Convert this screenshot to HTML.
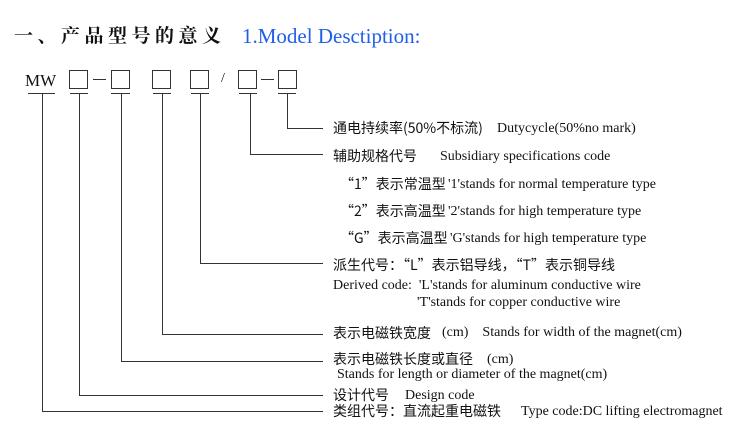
<!DOCTYPE html>
<html><head><meta charset="utf-8"><style>
body{margin:0;background:#fff;width:750px;height:437px;overflow:hidden;position:relative}
svg{position:absolute;left:0;top:0}
.t{position:absolute;white-space:nowrap;color:#111;font-family:"Liberation Serif","Noto Sans CJK SC",serif;font-size:14px;line-height:1}
.c{font-family:"Noto Sans CJK SC","WenQuanYi Zen Hei",sans-serif;font-size:14px}
</style></head><body>
<div class="t" style="left:14px;top:25px;font-size:19px;font-family:'Noto Serif CJK SC','Noto Sans CJK SC',serif;font-weight:bold;letter-spacing:4.5px">一、产品型号的意义</div>
<div class="t" style="left:242px;top:26px;font-size:21px;color:#2060e8">1.Model Desctiption:</div>
<div class="t" style="left:25px;top:72px;font-size:17px">MW</div>
<div class="t" style="left:221px;top:72px;font-size:14px">/</div>
<svg width="750" height="437">
<g fill="none" stroke="#333" stroke-width="1">
<rect x="69.5" y="70.5" width="18" height="18"/>
<rect x="111.5" y="70.5" width="18" height="18"/>
<rect x="152.5" y="70.5" width="18" height="18"/>
<rect x="190.5" y="70.5" width="18" height="18"/>
<rect x="238.5" y="70.5" width="18" height="18"/>
<rect x="278.5" y="70.5" width="18" height="18"/>
<path d="M93 79.5h13M261 79.5h13"/>
<path d="M28 93.5h27M70 93.5h18M111 93.5h19M153 93.5h18M191 93.5h18M239 93.5h18M278 93.5h18"/>
<path d="M42.5 93v318.5H323M79.5 93v302.5H323M121.5 93v268.5H323M162.5 93v241.5H323M200.5 93v170.5H323M250.5 93v61.5H323M287.5 93v35.5H323"/>
</g></svg>
<div class="t c" style="left:333px;top:121px">通电持续率(50%不标流)</div>
<div class="t" style="left:497px;top:122px">Dutycycle(50%no mark)</div>
<div class="t c" style="left:333px;top:149px">辅助规格代号</div>
<div class="t" style="left:440px;top:150px">Subsidiary specifications code</div>
<div class="t c" style="left:340px;top:177px">“1”表示常温型</div>
<div class="t" style="left:448px;top:178px">'1'stands for normal temperature type</div>
<div class="t c" style="left:340px;top:204px">“2”表示高温型</div>
<div class="t" style="left:448px;top:205px">'2'stands for high temperature type</div>
<div class="t c" style="left:340px;top:231px">“G”表示高温型</div>
<div class="t" style="left:450px;top:232px">'G'stands for high temperature type</div>
<div class="t c" style="left:333px;top:258px">派生代号：“L”表示铝导线，“T”表示铜导线</div>
<div class="t" style="left:333px;top:279px">Derived code:&nbsp; 'L'stands for aluminum conductive wire</div>
<div class="t" style="left:417px;top:296px">'T'stands for copper conductive wire</div>
<div class="t c" style="left:333px;top:326px">表示电磁铁宽度</div>
<div class="t" style="left:442px;top:326px">(cm)&nbsp;&nbsp;&nbsp; Stands for width of the magnet(cm)</div>
<div class="t c" style="left:333px;top:352px">表示电磁铁长度或直径</div>
<div class="t" style="left:487px;top:353px">(cm)</div>
<div class="t" style="left:337px;top:368px">Stands for length or diameter of the magnet(cm)</div>
<div class="t c" style="left:333px;top:388px">设计代号</div>
<div class="t" style="left:405px;top:389px">Design code</div>
<div class="t c" style="left:333px;top:404px">类组代号：直流起重电磁铁</div>
<div class="t" style="left:521px;top:405px">Type code:DC lifting electromagnet</div>
</body></html>
